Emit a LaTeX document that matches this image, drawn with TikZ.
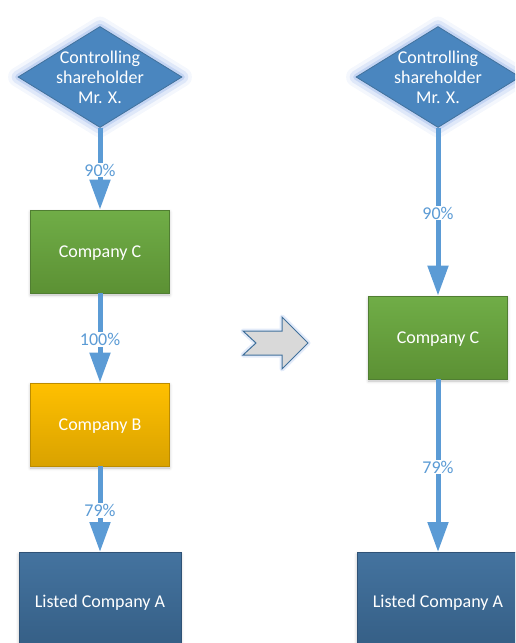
\documentclass[tikz,border=0pt]{standalone}
\usepackage{fontspec}
\setmainfont{Carlito}
\usetikzlibrary{arrows.meta,shapes.geometric,shadows.blur}

\definecolor{arrowblue}{HTML}{5B9BD5}
\definecolor{labelblue}{HTML}{5B9BD5}
\definecolor{dmfill}{HTML}{4A86BF}
\definecolor{dmline}{HTML}{41719C}
\definecolor{glowblue}{HTML}{8FAEE8}
\definecolor{greenA}{HTML}{70AD47}
\definecolor{greenB}{HTML}{5C9134}
\definecolor{greenL}{HTML}{507E32}
\definecolor{goldA}{HTML}{FFC000}
\definecolor{goldB}{HTML}{D9A200}
\definecolor{goldL}{HTML}{BC8C00}
\definecolor{navyA}{HTML}{44739F}
\definecolor{navyB}{HTML}{335C82}
\definecolor{navyL}{HTML}{2F5276}
\definecolor{greyfill}{HTML}{D9D9D9}

\tikzset{
  glow/.style={
    preaction={draw=glowblue, line join=round, line width=20pt, draw opacity=0.1},
    preaction={draw=glowblue, line join=round, line width=13pt, draw opacity=0.2},
    preaction={draw=glowblue, line join=round, line width=6pt, draw opacity=0.35}},
  txt/.style={font=\fontsize{18}{20}\selectfont},
  owner/.style={diamond, aspect=1.62, inner sep=-4pt, minimum width=164pt, minimum height=101pt,
    fill=dmfill, draw=dmline, line width=0.8pt, text=white, align=center, txt, glow},
  company/.style={rectangle, inner sep=0pt, text=white, line width=0.8pt, txt,
    text depth=0pt, shading angle=30,
    blur shadow={shadow xshift=0pt, shadow yshift=-2pt, shadow blur radius=3pt,
      shadow opacity=25}},
  compC/.style={company, minimum width=139pt, minimum height=83pt,
    top color=greenA, bottom color=greenB, draw=greenL},
  compB/.style={company, minimum width=139pt, minimum height=83pt,
    top color=goldA, bottom color=goldB, draw=goldL},
  compA/.style={company, minimum width=162pt, minimum height=108pt,
    top color=navyA, bottom color=navyB, draw=navyL},
  caption/.style={text=white, txt, text depth=0pt},
  stake/.style={draw=arrowblue, line width=5pt,
    -{Triangle[width=20pt,length=30pt]}},
  pct/.style={fill=white, text=labelblue, inner sep=1pt, txt, yshift=-1.5pt},
}

\begin{document}
\begin{tikzpicture}[x=1pt,y=-1pt]
  \path[use as bounding box, clip] (0,0) rectangle (515,643);

  % before: three-level holding chain
  \node[owner] (xl) at (100,77) {Controlling\\shareholder\\Mr. X.};
  \node[compC] (cl) at (100,251.5) {Company C};
  \node[compB] (bl) at (100,424.5) {Company B};
  \node[compA, anchor=north] (al) at (100,552) {};
  \node[caption] (alt) at (100,601) {Listed Company A};

  \draw[stake] (xl.south) -- (cl.north) node[pct, midway] {90\%};
  \draw[stake] (cl.south) -- (bl.north) node[pct, midway] {100\%};
  \draw[stake] (bl.south) -- (al.north) node[pct, midway] {79\%};

  % notched transition arrow
  \draw[draw=dmline, fill=greyfill, line width=1pt, line join=miter,
        preaction={draw=glowblue, line width=5pt, draw opacity=0.25, line join=round}]
    (243,331) -- (282,331) -- (282,317) -- (308,343) -- (282,369)
    -- (282,355) -- (243,355) -- (256,343) -- cycle;

  % after: direct holding
  \node[owner] (xr) at (438,77) {Controlling\\shareholder\\Mr. X.};
  \node[compC] (cr) at (438,337.5) {Company C};
  \node[compA, anchor=north] (ar) at (438,552) {};
  \node[caption] (art) at (438,601) {Listed Company A};

  \draw[stake] (xr.south) -- (cr.north) node[pct, midway] {90\%};
  \draw[stake] (cr.south) -- (ar.north) node[pct, midway] {79\%};
\end{tikzpicture}
\end{document}
